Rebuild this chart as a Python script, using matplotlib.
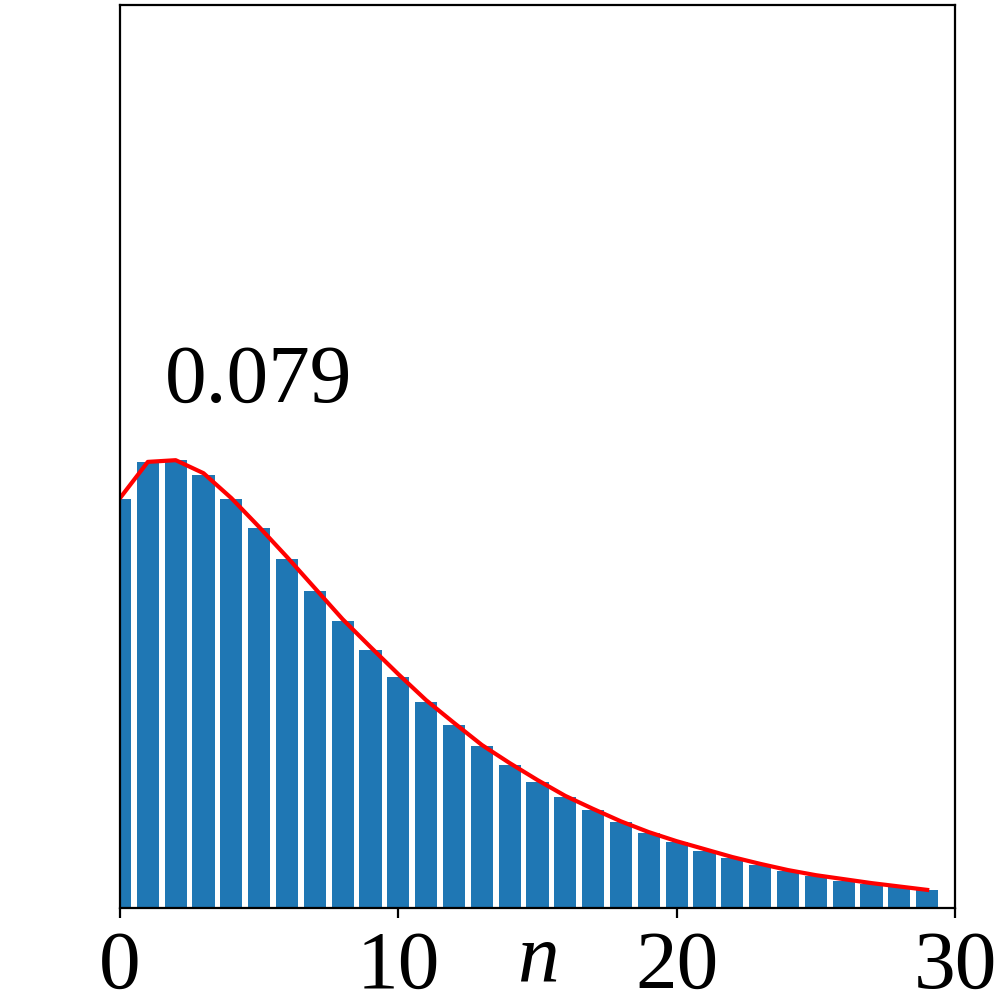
import numpy as np
import matplotlib
matplotlib.use('Agg')
from matplotlib import pyplot as plt

plt.rcParams['font.family'] = ['Liberation Serif', 'DejaVu Serif']

# observed distribution (bars) and fitted curve (red line)
N_VALUES = list(range(30))
BAR_VALUES = [0.0722, 0.0788, 0.0791, 0.0765, 0.0722, 0.0671, 0.0616, 0.0560,
              0.0507, 0.0456, 0.0408, 0.0364, 0.0323, 0.0286, 0.0253, 0.0223,
              0.0196, 0.0173, 0.0152, 0.0132, 0.0117, 0.0101, 0.0088, 0.0076,
              0.0065, 0.0057, 0.0048, 0.0042, 0.0037, 0.0032]
FIT_VALUES = [0.0724, 0.0788, 0.0791, 0.0768, 0.0724, 0.0673, 0.0620, 0.0565,
              0.0510, 0.0461, 0.0413, 0.0367, 0.0327, 0.0288, 0.0256, 0.0226,
              0.0198, 0.0175, 0.0153, 0.0134, 0.0118, 0.0104, 0.0090, 0.0078,
              0.0067, 0.0058, 0.0051, 0.0044, 0.0038, 0.0032]
X_TICKS = [0, 10, 20, 30]
PEAK_LABEL = '0.079'

fig = plt.figure(figsize=(5, 5), dpi=200)
ax = fig.add_axes([0.12, 0.092, 0.835, 0.903])

ax.bar(N_VALUES, BAR_VALUES, width=0.8, color='#1f77b4')
ax.plot(N_VALUES, FIT_VALUES, color='red', lw=1.5)

ax.set_xlim(0, 30)
ax.set_ylim(0, 0.1595)
ax.set_xticks(X_TICKS)
ax.set_yticks([])
ax.tick_params(axis='x', labelsize=30, length=3.5, pad=4.5)

ax.text(1.6, 0.0894, PEAK_LABEL, fontsize=30, ha='left', va='baseline')

ax.set_xlabel('n', fontsize=30, fontstyle='italic')
ax.xaxis.set_label_coords(0.5, -0.017)

fig.savefig('out.png', dpi=200)
